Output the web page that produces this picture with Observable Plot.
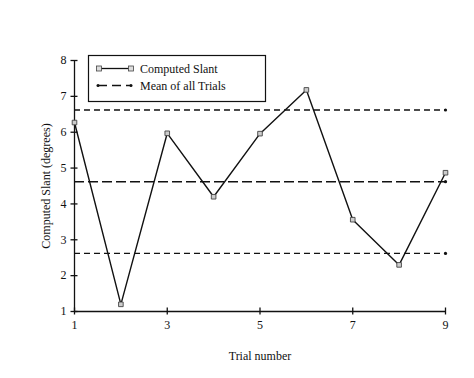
<!DOCTYPE html>
<html><head><meta charset="utf-8">
<script src="https://cdn.jsdelivr.net/npm/d3@7"></script>
<script src="https://cdn.jsdelivr.net/npm/@observablehq/plot@0.6"></script>
<style>
body{margin:0;background:#fff;}
#wrap{position:relative;width:474px;height:378px;}
#legend{position:absolute;left:0;top:0;}
</style></head><body><div id="wrap"></div>
<script>
const trials = [1,2,3,4,5,6,7,8,9];
const slant = [6.27,1.2,5.97,4.2,5.96,7.18,3.56,2.3,4.87];
const meanValue = [4.62];
const bandValues = [6.62, 2.62];
const xTicks = [1,3,5,7,9];
const yTicks = [1,2,3,4,5,6,7,8];
const legendLabels = ["Computed Slant","Mean of all Trials"];

const data = trials.map((t,i)=>({trial:t, slant:slant[i]}));
const xEnd = xTicks[xTicks.length-1];
const refs = [...meanValue, ...bandValues];
const font = "Liberation Serif, Times New Roman, serif";

const chart = Plot.plot({
  width: 474, height: 378,
  marginTop: 60, marginBottom: 67, marginLeft: 74, marginRight: 29,
  style: {fontFamily: font, fontSize: "12px", color: "#111", background: "#fff"},
  x: {domain: [1, 9]},
  y: {domain: [1, 8]},
  marks: [
    Plot.ruleY(bandValues, {strokeDasharray: "6,4", stroke: "#111", strokeWidth: 1.4}),
    Plot.ruleY(meanValue, {strokeDasharray: "10,4", stroke: "#111", strokeWidth: 1.4}),
    Plot.dot(refs, {x: () => xEnd, y: d => d, r: 1.6, fill: "#111"}),
    Plot.ruleY([yTicks[0]], {stroke: "#111", strokeWidth: 1.3}),
    Plot.ruleX([xTicks[0]], {stroke: "#111", strokeWidth: 1.3}),
    Plot.axisY({ticks: yTicks, tickSize: 7, dx: 3.5, tickFormat: () => "", label: null, strokeWidth: 1.3}),
    Plot.axisY({ticks: yTicks, tickSize: 0, tickPadding: 8, tickFormat: d3.format("d"), label: "Computed Slant (degrees)", labelAnchor: "center", labelArrow: "none", labelOffset: 33}),
    Plot.axisX({ticks: xTicks, tickSize: 7, dy: -3.5, tickFormat: () => "", label: null, strokeWidth: 1.3}),
    Plot.axisX({ticks: xTicks, tickSize: 0, tickPadding: 9, tickFormat: d3.format("d"), label: "Trial number", labelAnchor: "center", labelArrow: "none", labelOffset: 48}),
    Plot.line(data, {x: "trial", y: "slant", stroke: "#111", strokeWidth: 1.4}),
    Plot.dot(data, {x: "trial", y: "slant", symbol: "square", r: 2.6, fill: "#ccc", stroke: "#444", strokeWidth: 0.9})
  ]
});
document.getElementById("wrap").appendChild(chart);

// legend overlay
const svg = d3.select("#wrap").append("svg").attr("id","legend")
  .attr("width",474).attr("height",378).style("pointer-events","none");
const lg = svg.append("g").attr("transform","translate(88,55)");
lg.append("rect").attr("x",0.5).attr("y",0.5).attr("width",177).attr("height",46)
  .attr("fill","#fff").attr("stroke","#111").attr("stroke-width",1.2);
lg.append("line").attr("x1",11).attr("x2",43).attr("y1",13.5).attr("y2",13.5).attr("stroke","#111").attr("stroke-width",1.3);
[11,43].forEach(x=>lg.append("rect").attr("x",x-2.5).attr("y",11).attr("width",5).attr("height",5).attr("fill","#ddd").attr("stroke","#444").attr("stroke-width",0.8));
lg.append("line").attr("x1",10).attr("x2",43).attr("y1",30.5).attr("y2",30.5).attr("stroke","#111").attr("stroke-width",1.3).attr("stroke-dasharray","9,5");
[10,43].forEach(x=>lg.append("circle").attr("cx",x).attr("cy",30.5).attr("r",1.5).attr("fill","#111"));
legendLabels.forEach((t,i)=>lg.append("text").attr("x",52).attr("y",18+i*17).text(t)
  .attr("font-family",font).attr("font-size","12px").attr("fill","#111"));
</script></body></html>
